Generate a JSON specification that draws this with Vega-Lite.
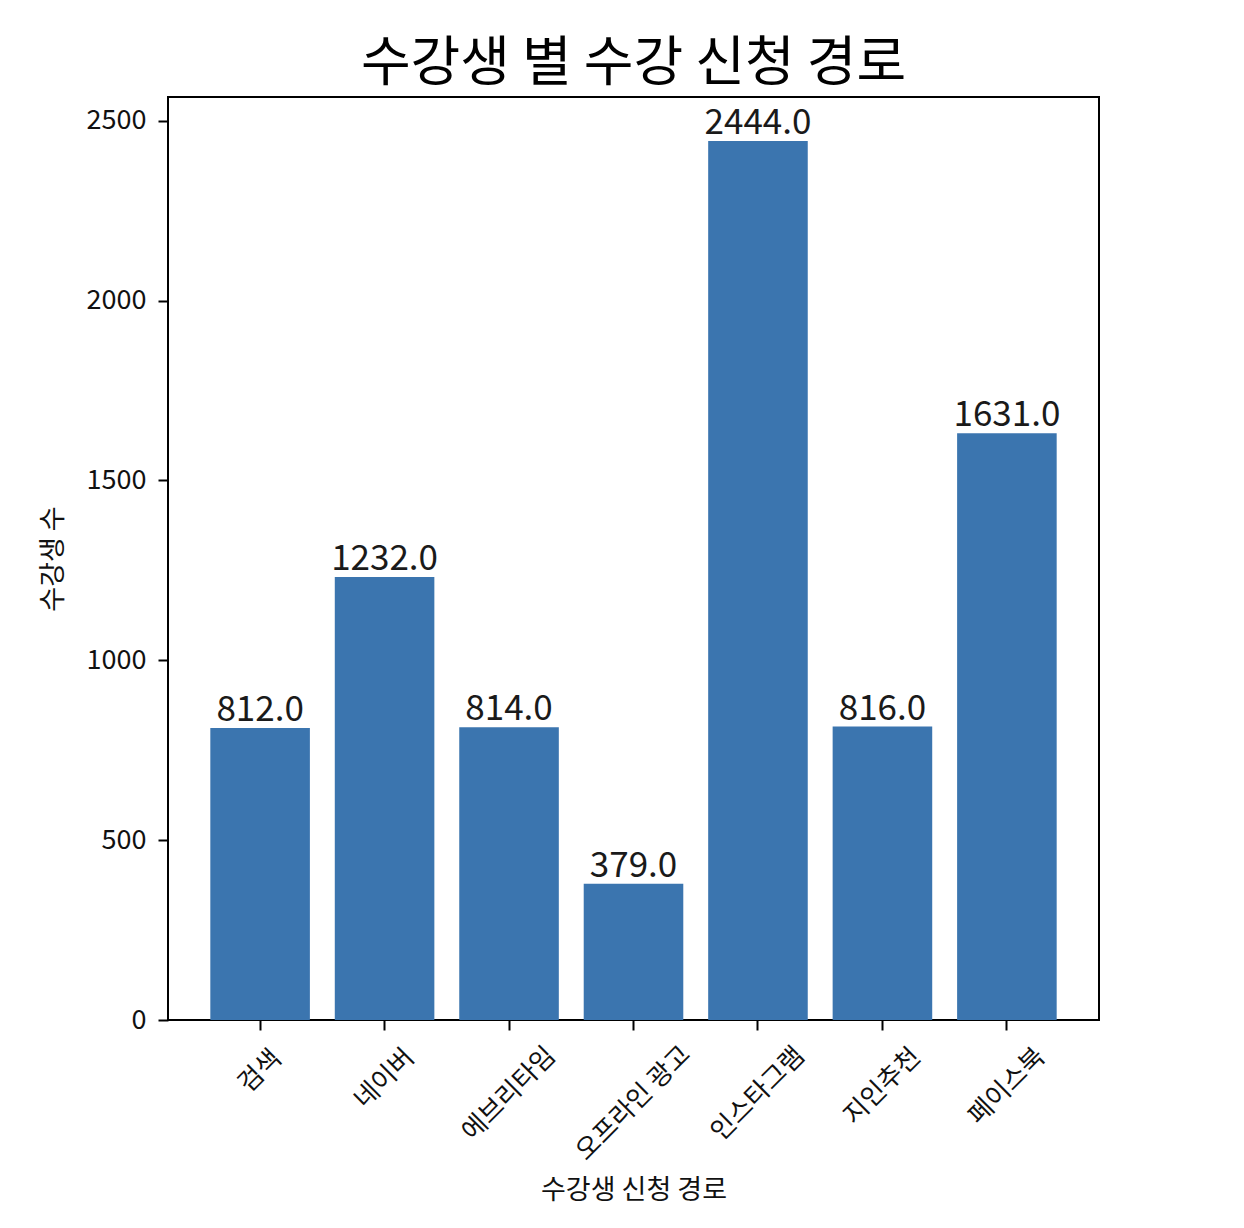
{
  "$schema": "https://vega.github.io/schema/vega-lite/v6.json",
  "autosize": "none",
  "width": 931,
  "height": 923,
  "padding": {"left": 168, "top": 97, "right": 145, "bottom": 208},
  "background": "white",
  "config": {
    "view": {"stroke": "#000000", "strokeWidth": 2},
    "font": "Noto Sans CJK KR"
  },
  "title": {
    "text": "수강생 별 수강 신청 경로",
    "fontSize": 54,
    "fontWeight": "normal",
    "font": "Noto Sans CJK KR",
    "color": "#000000",
    "anchor": "middle",
    "offset": 5
  },
  "data": {
    "values": [
      {"route": "검색", "count": 812},
      {"route": "네이버", "count": 1232},
      {"route": "에브리타임", "count": 814},
      {"route": "오프라인 광고", "count": 379},
      {"route": "인스타그램", "count": 2444},
      {"route": "지인추천", "count": 816},
      {"route": "페이스북", "count": 1631}
    ]
  },
  "encoding": {
    "x": {
      "field": "route",
      "type": "nominal",
      "sort": null,
      "scale": {"paddingInner": 0.2, "paddingOuter": 0.34},
      "axis": {
        "title": "수강생 신청 경로",
        "titleFontSize": 27,
        "titleFontWeight": "normal",
        "titleColor": "#111111",
        "titleY": 170,
        "titleBaseline": "middle",
        "domain": false,
        "ticks": true,
        "tickSize": 10,
        "tickWidth": 2,
        "tickColor": "#000000",
        "labels": false
      }
    },
    "y": {
      "field": "count",
      "type": "quantitative",
      "scale": {"domain": [0, 2566.2], "nice": false, "zero": true},
      "axis": {
        "title": "수강생 수",
        "titleFontSize": 27,
        "titleFontWeight": "normal",
        "titleColor": "#111111",
        "titleX": -115,
        "titleBaseline": "middle",
        "values": [0, 500, 1000, 1500, 2000, 2500],
        "format": "d",
        "grid": false,
        "domain": false,
        "tickSize": 10,
        "tickWidth": 2,
        "tickColor": "#000000",
        "labelPadding": 12,
        "labelFontSize": 27,
        "labelColor": "#111111"
      }
    }
  },
  "layer": [
    {
      "mark": {"type": "bar", "color": "#3b75af"}
    },
    {
      "mark": {"type": "text", "baseline": "alphabetic", "dy": -7, "fontSize": 35, "color": "#1a1a1a"},
      "encoding": {
        "text": {"field": "count", "type": "quantitative", "format": ".1f"}
      }
    },
    {
      "mark": {
        "type": "text",
        "angle": -45,
        "align": "center",
        "baseline": "middle",
        "fontSize": 26,
        "color": "#111111",
        "dx": {"expr": "-(25.5 + 5.37*(length(replace(datum.route, ' ', '')) + 0.22*(length(datum.route) - length(replace(datum.route, ' ', '')))))"},
        "dy": {"expr": "25.5 + 5.37*(length(replace(datum.route, ' ', '')) + 0.22*(length(datum.route) - length(replace(datum.route, ' ', ''))))"}
      },
      "encoding": {
        "y": {"datum": 0, "type": "quantitative"},
        "text": {"field": "route", "type": "nominal"}
      }
    }
  ]
}
